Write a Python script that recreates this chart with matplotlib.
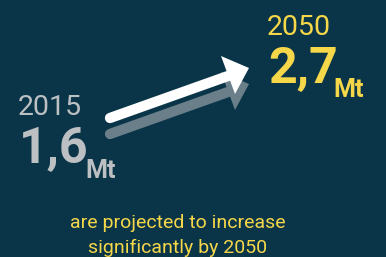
import matplotlib.pyplot as plt

# Values shown on the card
years = ['2015', '2050']
amounts = [1.6, 2.7]
unit = 'Mt'
caption = ['are projected to increase', 'significantly by 2050']

bg = '#0a3548'
grey = '#bcc0c3'
yellow = '#f6d74a'
arrow_grey = '#6a7f8a'

W, H = 386, 257
fig = plt.figure(figsize=(W / 100, H / 100), dpi=100, facecolor=bg)
ax = fig.add_axes([0, 0, 1, 1])
ax.set_facecolor(bg)
ax.set_xlim(0, W)
ax.set_ylim(H, 0)
ax.axis('off')


def label(x, y, year, value, color):
    ax.text(x - 3, y, year, color=color, fontsize=20.5, family='Roboto',
            va='baseline', ha='left')
    big = ax.text(x - 2, y + 48, f'{value:.1f}'.replace('.', ','), color=color,
                  fontsize=36, family='Roboto', weight='bold',
                  va='baseline', ha='left')
    return big


def arrow(dy, color):
    tail = (110, 118 + dy)
    neck = (228, 76 + dy)
    tip = (249, 68 + dy)
    ax.plot([tail[0], neck[0]], [tail[1], neck[1]], color=color, lw=7.4,
            solid_capstyle='round')
    head = plt.Polygon([tip, (221, 56 + dy), (235, 94 + dy)], closed=True,
                       color=color, lw=0)
    ax.add_patch(head)


arrow(16, arrow_grey)
arrow(0, 'white')

label(21, 115, years[0], amounts[0], grey)
ax.text(85, 178, unit, color=grey, fontsize=18, family='Roboto',
        weight='bold', va='baseline', ha='left')
label(270, 35, years[1], amounts[1], yellow)
ax.text(333, 97, unit, color=yellow, fontsize=18, family='Roboto',
        weight='bold', va='baseline', ha='left')

ax.text(178, 228, caption[0], color=yellow, fontsize=14,
        family=['Liberation Sans Narrow', 'Roboto'], va='baseline', ha='center')
ax.text(178, 253, caption[1], color=yellow, fontsize=14,
        family=['Liberation Sans Narrow', 'Roboto'], va='baseline', ha='center')

plt.savefig('out.png', dpi=100, facecolor=bg)
